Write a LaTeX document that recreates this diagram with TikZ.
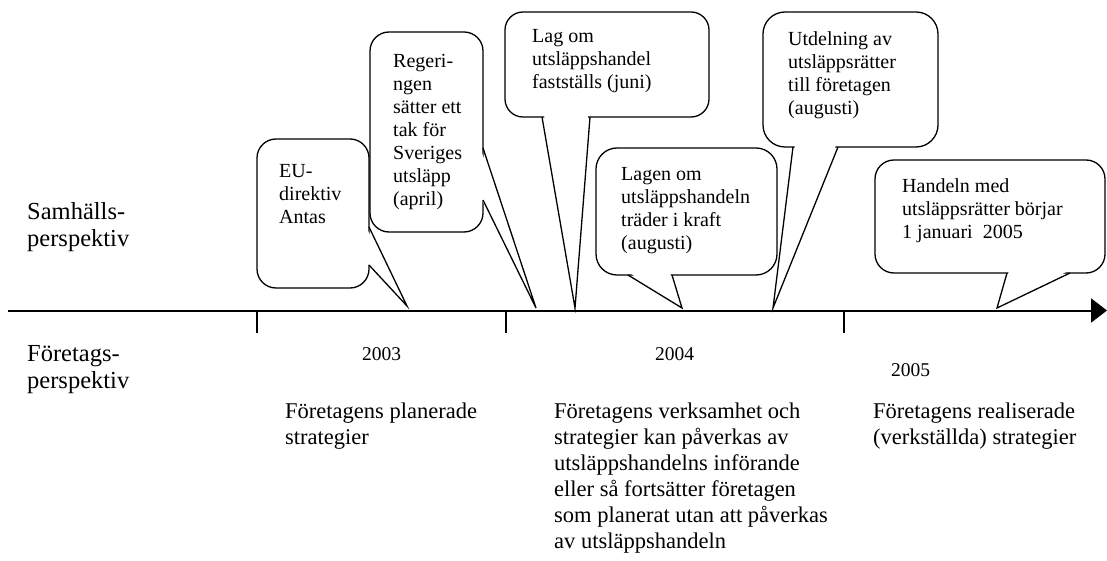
\documentclass[tikz,border=0pt]{standalone}
\usepackage{fontspec}
\setmainfont{Liberation Serif}
\usetikzlibrary{arrows.meta}
\tikzset{
  cbox/.style={draw, line width=1.3pt, fill=white, inner sep=0pt},
  cline/.style={draw, line width=1.3pt},
  ctext/.style={font=\fontsize{20}{23}\selectfont, align=left, inner sep=0pt, anchor=base west},
  btext/.style={font=\fontsize{22.5}{25.9}\selectfont, align=left, inner sep=0pt, anchor=base west},
  ltext/.style={font=\fontsize{24.5}{27}\selectfont, align=left, inner sep=0pt, anchor=base west},
  ytext/.style={font=\fontsize{19.5}{22}\selectfont, inner sep=0pt, anchor=base west},
  axisline/.style={line width=2pt, -{Triangle[length=16pt,width=24pt]}},
  tickline/.style={line width=1.3pt}
}
\begin{document}
\begin{tikzpicture}[x=1pt,y=-1pt]
\useasboundingbox (0,0) rectangle (1107,561);

% axis
\coordinate (axs) at (8,310.5);
\coordinate (axe) at (1107,310.5);
\draw[axisline] (axs) -- (axe);
\coordinate (t1) at (257,310.5);
\coordinate (t2) at (506,310.5);
\coordinate (t3) at (844,310.5);
\foreach \t in {t1,t2,t3} \draw[tickline] (\t) -- ++(0,22.5);

% EU box: L257 R369 T139 B288
\node[cbox, minimum width=112pt, minimum height=149pt, rounded corners=19pt] (eu) at (313,213.5) {};
\coordinate (eutip) at (407,306);
\fill[white] (367,229) -- (eutip) -- (367,263) -- cycle;
\draw[cline] (369,227) -- (eutip) -- (369,265);
\node[ctext] (eut) at (279,224) {EU-\\direktiv\\Antas};

% Regeringen box: L370 R483 T32 B232
\node[cbox, minimum width=113pt, minimum height=200pt, rounded corners=19pt] (reg) at (426.5,132) {};
\coordinate (regtip) at (536,308);
\fill[white] (481,150) -- (regtip) -- (481,198) -- cycle;
\draw[cline] (483,148) -- (regtip) -- (483,200);
\node[ctext] (regt) at (393,206) {Regeri-\\ngen\\sätter ett\\tak för\\Sveriges\\utsläpp\\(april)};

% Lag om box: L505 R709 T12 B117
\node[cbox, minimum width=204pt, minimum height=105pt, rounded corners=18pt] (lag) at (607,64.5) {};
\coordinate (lagtip) at (575,308);
\fill[white] (544,115) -- (lagtip) -- (588,115) -- cycle;
\draw[cline] (542,117) -- (lagtip) -- (590,117);
\node[ctext] (lagt) at (532,89) {Lag om\\utsläppshandel\\fastställs (juni)};

% Lagen box: L596 R777 T148 B275
\node[cbox, minimum width=181pt, minimum height=127pt, rounded corners=21pt] (lagen) at (686.5,211.5) {};
\coordinate (lagentip) at (682,308);
\fill[white] (630,273) -- (lagentip) -- (670,273) -- cycle;
\draw[cline] (628,275) -- (lagentip) -- (672,275);
\node[ctext] (lagent) at (621,249) {Lagen om\\utsläppshandeln\\träder i kraft\\(augusti)};

% Utdelning box: L763 R938 T12 B147
\node[cbox, minimum width=175pt, minimum height=135pt, rounded corners=22pt] (utd) at (850.5,79.5) {};
\coordinate (utdtip) at (773,308);
\fill[white] (795,145) -- (utdtip) -- (836,145) -- cycle;
\draw[cline] (793,147) -- (utdtip) -- (838,147);
\node[ctext] (utdt) at (788,115) {Utdelning av\\utsläppsrätter\\till företagen\\(augusti)};

% Handeln box: L875 R1105 T160 B273
\node[cbox, minimum width=230pt, minimum height=113pt, rounded corners=19pt] (han) at (990,216.5) {};
\coordinate (hantip) at (997,308);
\fill[white] (1009,271) -- (hantip) -- (1068,271) -- cycle;
\draw[cline] (1007,273) -- (hantip) -- (1070,273);
\node[ctext] (hant) at (902,239) {Handeln med\\utsläppsrätter börjar\\1 januari\ \ 2005};

% left labels
\node[ltext] (samh) at (27,246) {Samhälls-\\perspektiv};
\node[ltext] (fore) at (27,388) {Företags-\\perspektiv};

% years
\node[ytext] (y3) at (362,360) {2003};
\node[ytext] (y4) at (655,360) {2004};
\node[ytext] (y5) at (891,376) {2005};

% bottom texts
\node[btext] (b1) at (285,444.5) {Företagens planerade\\strategier};
\node[btext] (b2) at (554,548) {Företagens verksamhet och\\strategier kan påverkas av\\utsläppshandelns införande\\eller så fortsätter företagen\\som planerat utan att påverkas\\av utsläppshandeln};
\node[btext] (b3) at (873,444.5) {Företagens realiserade\\(verkställda) strategier};
\end{tikzpicture}
\end{document}
